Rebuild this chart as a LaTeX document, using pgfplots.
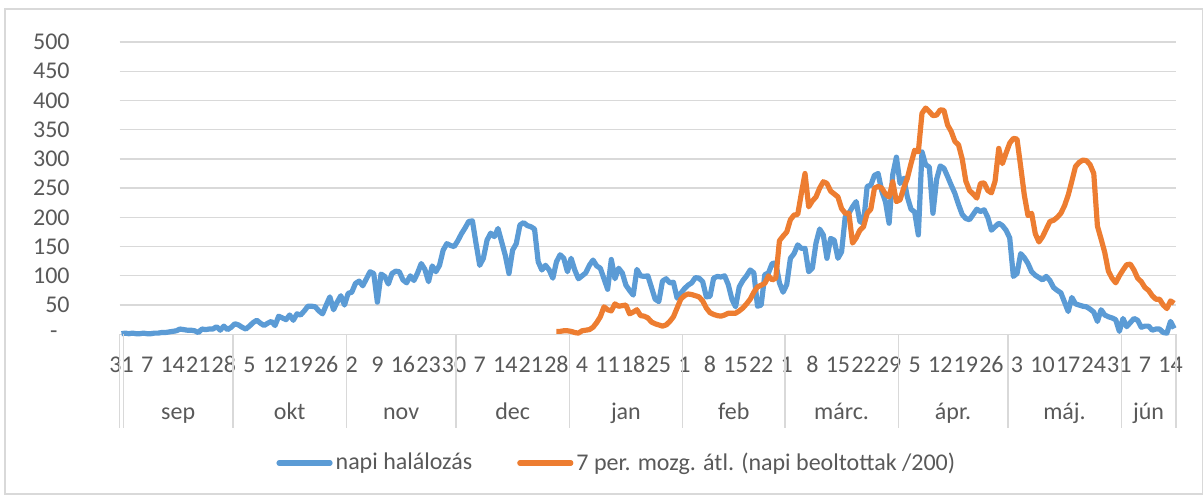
\documentclass[border=0pt]{standalone}
\usepackage{fontspec}
\setmainfont{Carlito}
\usepackage{pgfplots}
\pgfplotsset{compat=1.18}
\usepackage{pgfplotstable}
\definecolor{cblue}{HTML}{5B9BD5}
\definecolor{corange}{HTML}{ED7D31}
\definecolor{cgrid}{HTML}{D9D9D9}
\definecolor{ctext}{HTML}{595959}
\newcommand{\lblfont}{\fontsize{12pt}{14pt}\selectfont}

\pgfplotstableread{
d v
0 1
1 2
2 1
3 2
4 1
5 1
6 2
7 1
8 1
9 2
10 2
11 3
12 3
13 4
14 5
15 6
16 9
17 8
18 7
19 7
20 6
21 3
22 9
23 8
24 9
25 9
26 13
27 7
28 14
29 8
30 12
31 18
32 16
33 12
34 9
35 14
36 20
37 24
38 19
39 15
40 19
41 22
42 15
43 31
44 28
45 25
46 33
47 24
48 35
49 33
50 40
51 48
52 48
53 47
54 40
55 35
56 50
57 64
58 42
59 55
60 66
61 50
62 70
63 72
64 87
65 91
66 83
67 95
68 107
69 104
70 55
71 103
72 99
73 86
74 104
75 108
76 107
77 93
78 88
79 100
80 92
81 105
82 121
83 111
84 90
85 117
86 107
87 118
88 144
89 155
90 152
91 150
92 160
93 172
94 182
95 193
96 194
97 155
98 118
99 130
100 161
101 173
102 167
103 181
104 158
105 135
106 104
107 144
108 155
109 187
110 191
111 186
112 184
113 180
114 124
115 110
116 118
117 110
118 96
119 124
120 136
121 130
122 107
123 130
124 110
125 95
126 100
127 105
128 118
129 127
130 117
131 113
132 95
133 77
134 128
135 95
136 113
137 105
138 84
139 75
140 67
141 111
142 100
143 99
144 100
145 80
146 60
147 56
148 91
149 95
150 88
151 89
152 62
153 70
154 78
155 84
156 88
157 97
158 96
159 90
160 64
161 65
162 96
163 99
164 98
165 100
166 85
167 60
168 47
169 81
170 92
171 100
172 110
173 105
174 48
175 50
176 102
177 105
178 121
179 122
180 88
181 72
182 85
183 130
184 138
185 153
186 147
187 147
188 107
189 113
190 156
191 180
192 170
193 130
194 164
195 161
196 130
197 141
198 201
199 207
200 218
201 227
202 193
203 190
204 253
205 255
206 272
207 275
208 245
209 227
210 190
211 273
212 303
213 258
214 267
215 235
216 214
217 209
218 170
219 312
220 290
221 286
222 207
223 265
224 288
225 284
226 270
227 255
228 241
229 222
230 205
231 198
232 196
233 205
234 214
235 210
236 213
237 200
238 178
239 184
240 190
241 186
242 178
243 165
244 99
245 104
246 138
247 131
248 121
249 107
250 101
251 97
252 93
253 99
254 92
255 80
256 75
257 71
258 55
259 39
260 63
261 52
262 50
263 48
264 47
265 43
266 38
267 22
268 42
269 33
270 30
271 28
272 25
273 5
274 27
275 13
276 20
277 27
278 24
279 12
280 14
281 14
282 7
283 9
284 9
285 3
286 2
287 22
288 10
}\deaths

\pgfplotstableread{
d v
119 5
120 5
121 6
122 6
123 5
124 3
125 2
126 6
127 7
128 8
129 12
130 20
131 30
132 47
133 42
134 40
135 52
136 48
137 49
138 50
139 35
140 38
141 42
142 32
143 31
144 28
145 21
146 18
147 16
148 14
149 16
150 22
151 30
152 45
153 60
154 66
155 69
156 68
157 66
158 64
159 57
160 45
161 37
162 34
163 32
164 31
165 33
166 36
167 36
168 36
169 40
170 45
171 52
172 60
173 72
174 81
175 84
176 87
177 100
178 93
179 96
180 160
181 168
182 175
183 196
184 204
185 205
186 241
187 275
188 218
189 228
190 235
191 250
192 261
193 258
194 245
195 240
196 235
197 215
198 207
199 207
200 156
201 165
202 178
203 184
204 207
205 214
206 250
207 253
208 250
209 240
210 235
211 261
212 227
213 230
214 250
215 267
216 292
217 315
218 312
219 378
220 387
221 381
222 374
223 375
224 384
225 383
226 358
227 347
228 330
229 324
230 300
231 262
232 246
233 240
234 233
235 258
236 259
237 246
238 242
239 262
240 318
241 292
242 310
243 327
244 335
245 334
246 287
247 238
248 203
249 207
250 172
251 158
252 167
253 180
254 193
255 195
256 200
257 207
258 220
259 238
260 262
261 287
262 294
263 298
264 297
265 290
266 275
267 185
268 163
269 140
270 108
271 96
272 88
273 100
274 110
275 119
276 120
277 110
278 96
279 90
280 80
281 75
282 66
283 60
284 60
285 50
286 44
287 57
288 53
}\vacc

\begin{document}
\begin{tikzpicture}
\path[use as bounding box] (0,0) rectangle (602pt,248pt);
\draw[cgrid, line width=0.6pt] (2.5pt,1pt) rectangle (601.3pt,243.5pt);
\begin{axis}[
  at={(59.85pt,80.85pt)}, anchor=south west,
  width=528.15pt, height=146.15pt, scale only axis,
  xmin=-0.5, xmax=288.5, ymin=0, ymax=500,
  clip=false,
  axis line style={draw=none},
  major tick length=0pt,
  ymajorgrids,
  grid style={cgrid, line width=0.65pt},
  ytick={0,50,...,500},
  yticklabels={{-\hspace*{6pt}},50,100,150,200,250,300,350,400,450,500},
  xtick={0,7,...,287},
  xticklabels={31,7,14,21,28,5,12,19,26,2,9,16,23,30,7,14,21,28,4,11,18,25,1,8,15,22,1,8,15,22,29,5,12,19,26,3,10,17,24,31,7,14},
  /pgf/number format/assume math mode=true,
  ticklabel style={font=\lblfont, text=ctext},
  yticklabel style={anchor=east, inner sep=0pt, xshift=-24.85pt},
  xticklabel style={anchor=base, inner sep=0pt, yshift=-19.35pt},
  legend columns=2,
  legend cell align=left,
  legend style={at={(0.14839,-0.4403)}, anchor=west, draw=none, fill=none,
    inner sep=0pt, outer sep=0pt, font=\lblfont, text=ctext,
    nodes={inner sep=0pt},
    /tikz/every odd column/.append style={column sep=1.5pt},
    /tikz/every even column/.append style={column sep=22.5pt}},
  legend image code/.code={\draw[#1, line cap=round] (0pt,0pt) -- (25.5pt,0pt);},
]
\addplot[cblue, line width=2.6pt, line join=round, mark=none] table[x=d, y=v] {\deaths};
\addlegendentry{napi halálozás}
\addplot[corange, line width=2.6pt, line join=round, mark=none] table[x=d, y=v] {\vacc};
\addlegendentry{7 per. mozg. átl. (napi beoltottak /200)}

\pgfplotsinvokeforeach{-0.5,0.5,30.5,61.5,91.5,122.5,153.5,181.5,212.5,242.5,273.5,288.5}{
  \draw[cgrid, line width=0.65pt] (axis cs:#1,0) -- ++(0pt,-47pt);
}
\node[anchor=base, font=\lblfont, text=ctext, inner sep=0pt, yshift=-42.85pt] at (axis cs:15.5,0) {sep};
\node[anchor=base, font=\lblfont, text=ctext, inner sep=0pt, yshift=-42.85pt] at (axis cs:46,0) {okt};
\node[anchor=base, font=\lblfont, text=ctext, inner sep=0pt, yshift=-42.85pt] at (axis cs:76.5,0) {nov};
\node[anchor=base, font=\lblfont, text=ctext, inner sep=0pt, yshift=-42.85pt] at (axis cs:107,0) {dec};
\node[anchor=base, font=\lblfont, text=ctext, inner sep=0pt, yshift=-42.85pt] at (axis cs:138,0) {jan};
\node[anchor=base, font=\lblfont, text=ctext, inner sep=0pt, yshift=-42.85pt] at (axis cs:167.5,0) {feb};
\node[anchor=base, font=\lblfont, text=ctext, inner sep=0pt, yshift=-42.85pt] at (axis cs:197,0) {márc.};
\node[anchor=base, font=\lblfont, text=ctext, inner sep=0pt, yshift=-42.85pt] at (axis cs:227.5,0) {ápr.};
\node[anchor=base, font=\lblfont, text=ctext, inner sep=0pt, yshift=-42.85pt] at (axis cs:258,0) {máj.};
\node[anchor=base, font=\lblfont, text=ctext, inner sep=0pt, yshift=-42.85pt] at (axis cs:281,0) {jún};
\end{axis}
\end{tikzpicture}
\end{document}
